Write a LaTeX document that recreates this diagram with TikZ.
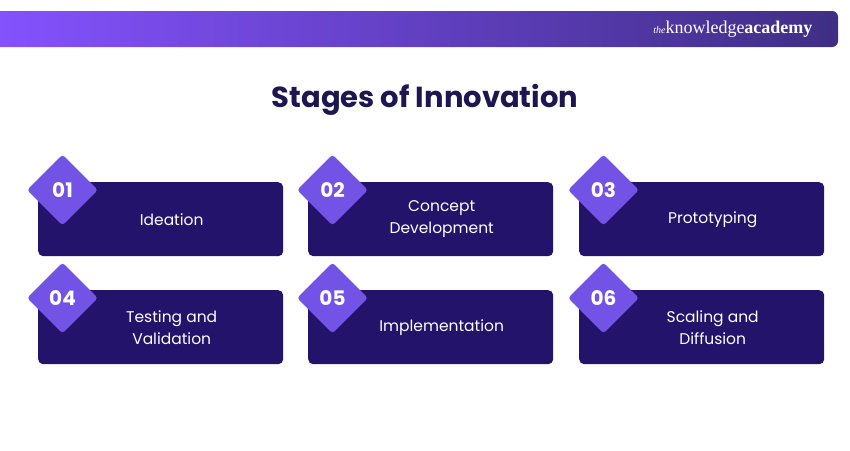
\documentclass[tikz,border=0pt]{standalone}
\usepackage{fontspec}
\setmainfont{Poppins}
\newfontfamily\logofont{Liberation Serif}
\usetikzlibrary{positioning}
\definecolor{cardblue}{RGB}{36,19,107}
\definecolor{gemviolet}{RGB}{115,82,230}
\definecolor{titlenavy}{RGB}{30,22,80}
\definecolor{bandleft}{RGB}{133,82,255}
\definecolor{bandright}{RGB}{63,46,133}
\tikzset{
  card/.style={fill=cardblue, rounded corners=5pt, minimum width=245pt, minimum height=74pt,
    inner sep=0pt},
  cardtext/.style={text=white, font=\fontsize{15.5}{22}\selectfont, align=center},
  gem/.style={fill=gemviolet, rounded corners=3pt, minimum width=50pt, minimum height=50pt,
    rotate=45, inner sep=0pt},
  gemnum/.style={text=white, font=\fontsize{20}{20}\selectfont\bfseries}
}
\begin{document}
\begin{tikzpicture}[x=1pt,y=1pt,yscale=-1]
  \useasboundingbox (0,0) rectangle (850,450);
  % banner
  \shade [left color=bandleft, right color=bandright, rounded corners=6pt]
    (-10,11) rectangle (838,47);
  \node (logo) [anchor=east, text=white, font=\logofont\fontsize{18}{18}\selectfont] at (816,29)
    {{\itshape\fontsize{10}{10}\selectfont the}knowledge\textbf{academy}};
  % title
  \node (title) [text=titlenavy, font=\fontsize{29}{29}\selectfont\bfseries] at (425,100) {Stages of Innovation};
  % cards
  \foreach \n/\cx/\cy/\txt in {01/38/182/Ideation, 02/308/182/Concept\\Development, 03/579/182/Prototyping,
                               04/38/290/Testing and\\Validation, 05/308/290/Implementation, 06/579/290/Scaling and\\Diffusion}{
    \node (card\n) [card, anchor=north west] at (\cx,\cy) {};
    \node (label\n) at ([xshift=11pt]card\n.center) [cardtext] {\txt};
    \node (gem\n) [gem] at (\cx+24.5,\cy+8) {};
    \node (num\n) [gemnum] at (gem\n.center) {\n};
  }
\end{tikzpicture}
\end{document}
